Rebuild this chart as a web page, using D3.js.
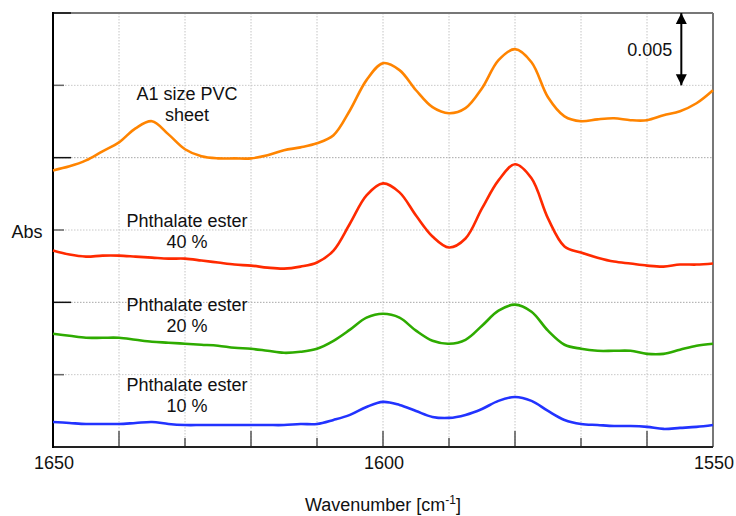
<!DOCTYPE html>
<html>
<head>
<meta charset="utf-8">
<script src="https://cdn.jsdelivr.net/npm/d3@7"></script>
<style>
  body { margin: 0; background: #fff; }
  svg { display: block; font-family: "Liberation Sans", Arial, sans-serif; }
</style>
</head>
<body>
<div id="chart"></div>
<script>
const width = 736;
const height = 516;

// wavenumber grid (cm-1), read every 2.5 units
const wavenumbers = [1650, 1647.5, 1645, 1642.5, 1640, 1637.5, 1635, 1632.5, 1630, 1627.5,
    1625, 1622.5, 1620, 1617.5, 1615, 1612.5, 1610, 1607.5, 1605, 1602.5,
    1600, 1597.5, 1595, 1592.5, 1590, 1587.5, 1585, 1582.5, 1580, 1577.5,
    1575, 1572.5, 1570, 1567.5, 1565, 1562.5, 1560, 1557.5, 1555, 1552.5, 1550];

// absorbance (offset spectra)
const pvcSheet = [0.01912, 0.01940, 0.01981, 0.02044, 0.02106, 0.02203, 0.02252, 0.02161, 0.02058, 0.02009,
    0.01995, 0.01995, 0.01995, 0.02016, 0.02051, 0.02071, 0.02099, 0.02155, 0.02328, 0.02536,
    0.02653, 0.02605, 0.02466, 0.02349, 0.02307, 0.02342, 0.02480, 0.02674, 0.02750, 0.02660,
    0.02418, 0.02286, 0.02252, 0.02265, 0.02272, 0.02259, 0.02259, 0.02293, 0.02321, 0.02376, 0.02466];
const ester40 = [0.01358, 0.01330, 0.01316, 0.01323, 0.01323, 0.01316, 0.01309, 0.01302, 0.01302, 0.01289,
    0.01275, 0.01261, 0.01254, 0.01240, 0.01233, 0.01247, 0.01275, 0.01358, 0.01545, 0.01739,
    0.01822, 0.01760, 0.01600, 0.01455, 0.01379, 0.01441, 0.01649, 0.01843, 0.01954, 0.01857,
    0.01580, 0.01386, 0.01344, 0.01309, 0.01282, 0.01268, 0.01254, 0.01247, 0.01261, 0.01261, 0.01268];
const ester20 = [0.00783, 0.00769, 0.00755, 0.00755, 0.00755, 0.00741, 0.00727, 0.00721, 0.00714, 0.00707,
    0.00700, 0.00686, 0.00679, 0.00665, 0.00651, 0.00658, 0.00679, 0.00734, 0.00811, 0.00894,
    0.00921, 0.00894, 0.00804, 0.00734, 0.00714, 0.00741, 0.00838, 0.00942, 0.00984, 0.00935,
    0.00804, 0.00707, 0.00679, 0.00665, 0.00665, 0.00665, 0.00644, 0.00644, 0.00672, 0.00700, 0.00714];
const ester10 = [0.00173, 0.00166, 0.00159, 0.00159, 0.00159, 0.00166, 0.00173, 0.00159, 0.00152, 0.00152,
    0.00152, 0.00152, 0.00152, 0.00152, 0.00152, 0.00159, 0.00159, 0.00187, 0.00222, 0.00277,
    0.00312, 0.00291, 0.00249, 0.00208, 0.00201, 0.00222, 0.00263, 0.00319, 0.00346, 0.00319,
    0.00249, 0.00187, 0.00159, 0.00152, 0.00145, 0.00145, 0.00139, 0.00125, 0.00132, 0.00139, 0.00152];

const seriesColors = ["#ff8400", "#ff2a00", "#2eab00", "#2233ff"];
const seriesLabels = [["A1 size PVC", "sheet"], ["Phthalate ester", "40 %"],
    ["Phthalate ester", "20 %"], ["Phthalate ester", "10 %"]];
// label anchor: [wavenumber, absorbance of first line baseline]
const labelAnchors = [[1630, 0.0240], [1630, 0.0152], [1630, 0.0094], [1630, 0.0039]];

const gridWavenumbers = [1640, 1630, 1620, 1610, 1600, 1590, 1580, 1570, 1560];
const majorWavenumbers = [1640, 1620, 1600, 1580, 1560];
const xTickLabels = [1650, 1600, 1550];
const yTicks = [0.005, 0.010, 0.015, 0.020, 0.025, 0.030];
const majorYTicks = [0.010, 0.020, 0.030];
const scaleBar = [0.025, 0.030];

const plotLeft = 53, plotRight = 713, plotTop = 13, plotBottom = 447;

const x = d3.scaleLinear().domain([1650, 1550]).range([plotLeft, plotRight]);
const y = d3.scaleLinear().domain([0, 0.03]).range([plotBottom, plotTop]);

const svg = d3.select("#chart").append("svg")
    .attr("width", width)
    .attr("height", height);

// grid
svg.append("g").selectAll("line")
    .data(gridWavenumbers)
    .enter().append("line")
    .attr("x1", d => x(d)).attr("x2", d => x(d))
    .attr("y1", plotTop).attr("y2", plotBottom)
    .attr("stroke", "#c4c4c4")
    .attr("stroke-dasharray", "1.5,1.5");

svg.append("g").selectAll("line")
    .data(yTicks.slice(0, -1))
    .enter().append("line")
    .attr("x1", plotLeft).attr("x2", plotRight)
    .attr("y1", d => y(d)).attr("y2", d => y(d))
    .attr("stroke", d => majorYTicks.includes(d) ? "#a8a8a8" : "#c8c8c8")
    .attr("stroke-dasharray", "1.5,1.5");

// frame: top and right in gray
svg.append("line")
    .attr("x1", plotLeft).attr("x2", plotRight).attr("y1", plotTop).attr("y2", plotTop)
    .attr("stroke", "#777").attr("stroke-width", 2);
svg.append("line")
    .attr("x1", plotRight).attr("x2", plotRight).attr("y1", plotTop).attr("y2", plotBottom)
    .attr("stroke", "#777").attr("stroke-width", 2);

// bottom ticks
svg.append("g").selectAll("line")
    .data(gridWavenumbers)
    .enter().append("line")
    .attr("x1", d => x(d)).attr("x2", d => x(d))
    .attr("y1", plotBottom)
    .attr("y2", d => majorWavenumbers.includes(d) ? plotBottom - 16 : plotBottom - 9)
    .attr("stroke", "#555")
    .attr("stroke-width", 1.5);

// left ticks
svg.append("g").selectAll("line")
    .data(yTicks)
    .enter().append("line")
    .attr("x1", plotLeft)
    .attr("x2", d => majorYTicks.includes(d) ? plotLeft + 18 : plotLeft + 11)
    .attr("y1", d => y(d)).attr("y2", d => y(d))
    .attr("stroke", d => majorYTicks.includes(d) ? "#111" : "#666")
    .attr("stroke-width", 1.5);

// axes lines
svg.append("line")
    .attr("x1", plotLeft).attr("x2", plotRight).attr("y1", plotBottom).attr("y2", plotBottom)
    .attr("stroke", "#222").attr("stroke-width", 2);
svg.append("line")
    .attr("x1", plotLeft).attr("x2", plotLeft).attr("y1", plotTop - 1).attr("y2", plotBottom + 1)
    .attr("stroke", "#000").attr("stroke-width", 2);

// spectra
const allSeries = [pvcSheet, ester40, ester20, ester10];
const line = d3.line()
    .x((d, i) => x(wavenumbers[i]))
    .y(d => y(d))
    .curve(d3.curveCatmullRom.alpha(0.5));

svg.append("g").selectAll("path")
    .data(allSeries)
    .enter().append("path")
    .attr("d", d => line(d))
    .attr("fill", "none")
    .attr("stroke", (d, i) => seriesColors[i])
    .attr("stroke-width", 2.6)
    .attr("stroke-linejoin", "round");

// series labels
const labels = svg.append("g")
    .attr("font-size", "18px")
    .attr("fill", "#111")
    .attr("text-anchor", "middle");
seriesLabels.forEach((lines, i) => {
    const [w, a] = labelAnchors[i];
    lines.forEach((t, j) => {
        labels.append("text")
            .attr("x", x(w) + 2)
            .attr("y", y(a) + j * 21)
            .text(t);
    });
});

// scale bar 0.005
const barX = x(1554.8);
svg.append("defs").append("marker")
    .attr("id", "head")
    .attr("viewBox", "0 0 10 10")
    .attr("refX", 10).attr("refY", 5)
    .attr("markerWidth", 5.5).attr("markerHeight", 8)
    .attr("markerUnits", "strokeWidth")
    .attr("orient", "auto-start-reverse")
    .append("path")
    .attr("d", "M0,0 L10,5 L0,10 Z")
    .attr("fill", "#000");
svg.append("line")
    .attr("x1", barX).attr("x2", barX)
    .attr("y1", y(scaleBar[1])).attr("y2", y(scaleBar[0]))
    .attr("stroke", "#000").attr("stroke-width", 2)
    .attr("marker-start", "url(#head)")
    .attr("marker-end", "url(#head)");
svg.append("text")
    .attr("x", barX - 9)
    .attr("y", (y(scaleBar[0]) + y(scaleBar[1])) / 2 + 7)
    .attr("text-anchor", "end")
    .attr("font-size", "18px")
    .attr("fill", "#111")
    .text("0.005");

// tick labels
svg.append("g").selectAll("text")
    .data(xTickLabels)
    .enter().append("text")
    .attr("x", d => x(d) + 1)
    .attr("y", 469)
    .attr("text-anchor", "middle")
    .attr("font-size", "18px")
    .attr("fill", "#111")
    .text(d => d);

// axis titles
svg.append("text")
    .attr("x", 27).attr("y", 238)
    .attr("text-anchor", "middle")
    .attr("font-size", "18px")
    .attr("fill", "#111")
    .text("Abs");

const xTitle = svg.append("text")
    .attr("x", 383).attr("y", 511)
    .attr("text-anchor", "middle")
    .attr("font-size", "18px")
    .attr("fill", "#111");
xTitle.append("tspan").text("Wavenumber [cm");
xTitle.append("tspan").attr("font-size", "12px").attr("dy", -7).text("-1");
xTitle.append("tspan").attr("dy", 7).text("]");
</script>
</body>
</html>
